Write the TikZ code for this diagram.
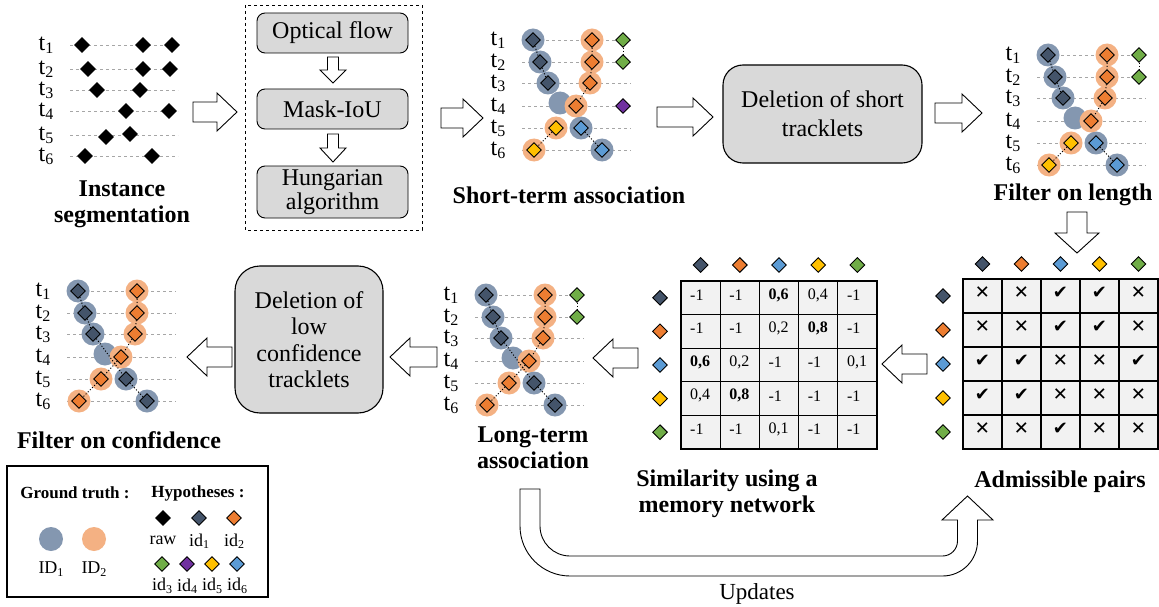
\documentclass[tikz,border=0pt]{standalone}
\usepackage{fontspec}
\setmainfont{Liberation Serif}
\newfontfamily\dejavu{DejaVu Sans}
\usetikzlibrary{shapes.geometric}
\definecolor{gtblue}{HTML}{8497B0}
\definecolor{gtorange}{HTML}{F4B183}
\definecolor{cdark}{HTML}{44546A}
\definecolor{corange}{HTML}{ED7D31}
\definecolor{cblue}{HTML}{5B9BD5}
\definecolor{cyellow}{HTML}{FFC000}
\definecolor{cgreen}{HTML}{70AD47}
\definecolor{cpurple}{HTML}{7030A0}
\definecolor{boxgray}{HTML}{D9D9D9}
\definecolor{cellgray}{HTML}{F2F2F2}
\definecolor{dashgray}{HTML}{A6A6A6}
\tikzset{
  dia/.style={diamond, draw=black, line width=0.9pt, fill=#1, inner sep=0pt, minimum width=15pt, minimum height=15pt},
  gt/.style={circle, fill=#1, inner sep=0pt, minimum size=23pt},
  hl/.style={draw=dashgray, dash pattern=on 3pt off 3pt, line width=0.8pt},
  trk/.style={dotted, line width=1pt},
  blk/.style={draw=black, fill=white, line width=0.9pt, line join=miter},
  procbox/.style={draw, rounded corners=8pt, fill=boxgray, line width=0.9pt, inner sep=0pt, align=center, font=\fontsize{24}{24}\selectfont},
  tlab/.style={inner sep=0pt, font=\fontsize{24}{24}\selectfont},
  captxt/.style={inner sep=0pt, align=center, font=\bfseries\fontsize{24}{26}\selectfont},
  cellbox/.style={draw, fill=cellgray, line width=1.2pt, inner sep=0pt},
  simval/.style={anchor=west, inner sep=0pt, font=\fontsize{16}{16}\selectfont},
  admval/.style={inner sep=0pt, font=\dejavu\bfseries\fontsize{18}{18}\selectfont},
  legtxt/.style={inner sep=0pt, font=\fontsize{18}{18}\selectfont},
}
\newcommand\lowsub[2]{\raisebox{-0.3ex}{\fontsize{#1}{#1}\selectfont #2}}
\newcommand\rarrow[3]{\draw[blk] (#1,{#3-10}) -- ({#2-20},{#3-10}) -- ({#2-20},{#3-19}) -- (#2,#3) -- ({#2-20},{#3+19}) -- ({#2-20},{#3+10}) -- (#1,{#3+10}) -- cycle;}
\newcommand\larrow[3]{\draw[blk] (#1,{#3-10}) -- ({#2+20},{#3-10}) -- ({#2+20},{#3-19}) -- (#2,#3) -- ({#2+20},{#3+19}) -- ({#2+20},{#3+10}) -- (#1,{#3+10}) -- cycle;}
% x, y top, y tip, shaft half, head half, head length
\newcommand\darrow[6]{\draw[blk] ({#1-#4},#2) -- ({#1-#4},{#3-#6}) -- ({#1-#5},{#3-#6}) -- (#1,#3) -- ({#1+#5},{#3-#6}) -- ({#1+#4},{#3-#6}) -- ({#1+#4},#2) -- cycle;}
\newcommand\trackbase[1]{%
  \foreach \i/\yy in {1/0,2/22,3/43,4/66,5/88,6/110}{%
    \draw[hl] (-11,\yy) -- (98,\yy);
    \node[tlab] (#1t\i) at (-35,\yy) {t\lowsub{16}{\i}};
  }
  \foreach \i/\xx/\yy in {1/0/0,2/7/22,3/15/43,4/27/63,5/48/88,6/69/110}{\node[gt=gtblue] (#1a\i) at (\xx,\yy) {};}
  \foreach \i/\xx/\yy in {1/59/0,2/59/22,3/57/43,4/43/66,5/23/88,6/1/110}{\node[gt=gtorange] (#1b\i) at (\xx,\yy) {};}
}
\newcommand\simcell[3]{\node[cellbox, minimum width=39.2pt, minimum height=33.6pt] (s#1#2) at ({681+39.2*(#2-0.5)},{281+33.6*(#1-0.5)}) {};
  \node[simval] (sv#1#2) at ({681+39.2*(#2-1)+9},{281+33.6*(#1-1)+14}) {#3};}
\newcommand\simrow[6]{\simcell{#1}{1}{#2}\simcell{#1}{2}{#3}\simcell{#1}{3}{#4}\simcell{#1}{4}{#5}\simcell{#1}{5}{#6}}
\newcommand\admcell[3]{\node[cellbox, minimum width=39pt, minimum height=34pt] (a#1#2) at ({963+39*(#2-0.5)},{279+34*(#1-0.5)}) {};
  \node[admval] (av#1#2) at ({963+39*(#2-0.5)},{279+34*(#1-0.5)-3}) {#3};}
\newcommand\admrow[6]{\admcell{#1}{1}{#2}\admcell{#1}{2}{#3}\admcell{#1}{3}{#4}\admcell{#1}{4}{#5}\admcell{#1}{5}{#6}}
\newcommand\CX{✕}
\newcommand\CK{✔}
\begin{document}
\begin{tikzpicture}[x=1pt,y=-1pt]
\useasboundingbox (0,0) rectangle (1159,607);
\fill[white] (0,0) rectangle (1159,607);

% ---------- Panel 1: instance segmentation
\foreach \i/\yy in {1/45,2/69,3/90,4/111,5/135,6/156}{
  \draw[hl] (70,\yy) -- (178,\yy);
  \node[tlab] (rt\i) at (46,\yy) {t\lowsub{16}{\i}};
}
\foreach \n/\xx/\yy in {r1/82/45,r2/143/45,r3/172/45,r4/88/69,r5/143/69,r6/170/69,r7/97/90,r8/140/90,r9/126/111,r10/169/111,r11/106/137,r12/130/134,r13/85/156,r14/152/156}{
  \node[dia=black] (\n) at (\xx,\yy) {};
}
\node[captxt] (capIS) at (122,204) {Instance\\segmentation};
\rarrow{193}{237}{112}

% ---------- dashed box
\draw[dashed, line width=0.9pt] (245,5) rectangle (422,230);
\node[procbox, minimum width=151pt, minimum height=40pt] (of) at (332.5,33) {Optical flow};
\node[procbox, minimum width=151pt, minimum height=40pt] (mi) at (332.5,109) {Mask-IoU};
\node[procbox, minimum width=151pt, minimum height=52pt] (ha) at (332.5,192) {Hungarian\\algorithm};
\darrow{333}{57}{83}{5.5}{13}{13}
\darrow{333}{134}{162}{5.5}{13}{14}
\rarrow{441}{483}{118}

% ---------- Panel 2: short-term association
\begin{scope}[shift={(533,40)}]
\trackbase{p}
\node[dia=cdark] (pd1) at (pa1) {};
\node[dia=cdark] (pd2) at (pa2) {};
\node[dia=cdark] (pd3) at (pa3) {};
\node[dia=corange] (po1) at (pb1) {};
\node[dia=corange] (po2) at (pb2) {};
\node[dia=corange] (po3) at (pb3) {};
\node[dia=corange] (po4) at (pb4) {};
\node[dia=cyellow] (py5) at (pb5) {};
\node[dia=cyellow] (py6) at (pb6) {};
\node[dia=cblue] (pl5) at (pa5) {};
\node[dia=cblue] (pl6) at (pa6) {};
\node[dia=cgreen] (pg1) at (90,0) {};
\node[dia=cgreen] (pg2) at (90,22) {};
\node[dia=cpurple] (pp4) at (90,66) {};
\draw[trk] (pd1) -- (pd2) -- (pd3);
\draw[trk] (po1) -- (po2) -- (po3) -- (po4);
\draw[trk] (py5) -- (py6);
\draw[trk] (pl5) -- (pl6);
\draw[trk] (pg1) -- (pg2);
\end{scope}
\node[captxt] (capST) at (569,195) {Short-term association};
\rarrow{657}{713}{117}

\node[procbox, rounded corners=20pt, minimum width=199pt, minimum height=98pt, line width=1.1pt, font=\fontsize{24}{29}\selectfont] (del1) at (822.5,114) {Deletion of short\\tracklets};
\rarrow{935}{982}{113}

% ---------- Panel 3: filter on length
\begin{scope}[shift={(1048,55)}]
\trackbase{q}
\node[dia=cdark] (qd1) at (qa1) {};
\node[dia=cdark] (qd2) at (qa2) {};
\node[dia=cdark] (qd3) at (qa3) {};
\node[dia=corange] (qo1) at (qb1) {};
\node[dia=corange] (qo2) at (qb2) {};
\node[dia=corange] (qo3) at (qb3) {};
\node[dia=corange] (qo4) at (qb4) {};
\node[dia=cyellow] (qy5) at (qb5) {};
\node[dia=cyellow] (qy6) at (qb6) {};
\node[dia=cblue] (ql5) at (qa5) {};
\node[dia=cblue] (ql6) at (qa6) {};
\node[dia=cgreen] (qg1) at (91,0) {};
\node[dia=cgreen] (qg2) at (91,22) {};
\draw[trk] (qd1) -- (qd2) -- (qd3);
\draw[trk] (qo1) -- (qo2) -- (qo3) -- (qo4);
\draw[trk] (qy5) -- (qy6);
\draw[trk] (ql5) -- (ql6);
\draw[trk] (qg1) -- (qg2);
\end{scope}
\node[captxt] (capFL) at (1073,195) {Filter on length};
\darrow{1077}{212}{253}{10}{22}{20}

% ---------- Admissible pairs
\foreach \c/\col in {1/cdark,2/corange,3/cblue,4/cyellow,5/cgreen}{
  \node[dia=\col] (ah\c) at ({963+39*(\c-0.5)},264) {};
  \node[dia=\col] (ar\c) at (943,{279+34*(\c-0.5)}) {};
}
\admrow{1}{\CX}{\CX}{\CK}{\CK}{\CX}
\admrow{2}{\CX}{\CX}{\CK}{\CK}{\CX}
\admrow{3}{\CK}{\CK}{\CX}{\CX}{\CK}
\admrow{4}{\CK}{\CK}{\CX}{\CX}{\CX}
\admrow{5}{\CX}{\CX}{\CK}{\CX}{\CX}
\node[captxt] (capAP) at (1060,482) {Admissible pairs};
\larrow{927}{882}{364}

% ---------- Similarity
\foreach \c/\col in {1/cdark,2/corange,3/cblue,4/cyellow,5/cgreen}{
  \node[dia=\col] (sh\c) at ({681+39.2*(\c-0.5)},265) {};
  \node[dia=\col] (sr\c) at (660,{281+33.6*(\c-0.5)}) {};
}
\simrow{1}{-1}{-1}{\textbf{0,6}}{0,4}{-1}
\simrow{2}{-1}{-1}{0,2}{\textbf{0,8}}{-1}
\simrow{3}{\textbf{0,6}}{0,2}{-1}{-1}{0,1}
\simrow{4}{0,4}{\textbf{0,8}}{-1}{-1}{-1}
\simrow{5}{-1}{-1}{0,1}{-1}{-1}
\node[captxt] (capSM) at (727,494) {Similarity using a\\memory network};
\larrow{638}{593}{358}

% ---------- Long-term association
\begin{scope}[shift={(486,295)}]
\trackbase{l}
\node[dia=cdark] (ld1) at (la1) {};
\node[dia=cdark] (ld2) at (la2) {};
\node[dia=cdark] (ld3) at (la3) {};
\node[dia=cdark] (ld5) at (la5) {};
\node[dia=cdark] (ld6) at (la6) {};
\node[dia=corange] (lo1) at (lb1) {};
\node[dia=corange] (lo2) at (lb2) {};
\node[dia=corange] (lo3) at (lb3) {};
\node[dia=corange] (lo4) at (lb4) {};
\node[dia=corange] (lo5) at (lb5) {};
\node[dia=corange] (lo6) at (lb6) {};
\node[dia=cgreen] (lg1) at (91,0) {};
\node[dia=cgreen] (lg2) at (91,22) {};
\draw[trk] (ld1) -- (ld2) -- (ld3) -- (ld5) -- (ld6);
\draw[trk] (lo1) -- (lo2) -- (lo3) -- (lo4) -- (lo5) -- (lo6);
\draw[trk] (lg1) -- (lg2);
\end{scope}
\node[captxt] (capLT) at (533,448) {Long-term\\association};
\larrow{437}{390}{357}

\node[procbox, rounded corners=25pt, minimum width=148pt, minimum height=147pt, line width=1.1pt, font=\fontsize{24}{26.5}\selectfont] (del2) at (309,339.5) {Deletion of\\low\\confidence\\tracklets};
\larrow{232}{187}{357}

% ---------- Filter on confidence
\begin{scope}[shift={(78,291)}]
\trackbase{f}
\node[dia=cdark] (fd1) at (fa1) {};
\node[dia=cdark] (fd2) at (fa2) {};
\node[dia=cdark] (fd3) at (fa3) {};
\node[dia=cdark] (fd5) at (fa5) {};
\node[dia=cdark] (fd6) at (fa6) {};
\node[dia=corange] (fo1) at (fb1) {};
\node[dia=corange] (fo2) at (fb2) {};
\node[dia=corange] (fo3) at (fb3) {};
\node[dia=corange] (fo4) at (fb4) {};
\node[dia=corange] (fo5) at (fb5) {};
\node[dia=corange] (fo6) at (fb6) {};
\draw[trk] (fd1) -- (fd2) -- (fd3) -- (fd5) -- (fd6);
\draw[trk] (fo1) -- (fo2) -- (fo3) -- (fo4) -- (fo5) -- (fo6);
\end{scope}
\node[captxt] (capFC) at (119,440) {Filter on confidence};

% ---------- Legend
\draw[line width=2.5pt] (7,466) rectangle (268,597);
\node[inner sep=0pt, font=\bfseries\fontsize{17}{17}\selectfont] (lgGT) at (75,493) {Ground truth :};
\node[inner sep=0pt, font=\bfseries\fontsize{17}{17}\selectfont] (lgHY) at (198,493) {Hypotheses :};
\node[gt=gtblue, minimum size=24pt] (lgc1) at (51,539) {};
\node[gt=gtorange, minimum size=24pt] (lgc2) at (94,539) {};
\node[legtxt] (lgI1) at (51,569) {ID\lowsub{12}{1}};
\node[legtxt] (lgI2) at (94,569) {ID\lowsub{12}{2}};
\node[dia=black] (lh0) at (163,518) {};
\node[dia=cdark] (lh1) at (199,518) {};
\node[dia=corange] (lh2) at (234,518) {};
\node[legtxt] (lt0) at (163,540) {raw};
\node[legtxt] (lt1) at (199,541) {id\lowsub{12}{1}};
\node[legtxt] (lt2) at (234,541) {id\lowsub{12}{2}};
\node[dia=cgreen] (lh3) at (162,564) {};
\node[dia=cpurple] (lh4) at (187,564) {};
\node[dia=cyellow] (lh5) at (212,564) {};
\node[dia=cblue] (lh6) at (237,564) {};
\node[legtxt] (lt3) at (162,586) {id\lowsub{12}{3}};
\node[legtxt] (lt4) at (187,586) {id\lowsub{12}{4}};
\node[legtxt] (lt5) at (212,586) {id\lowsub{12}{5}};
\node[legtxt] (lt6) at (237,586) {id\lowsub{12}{6}};

% ---------- Updates arrow
\draw[blk] (520,489) -- (520,526) arc[start angle=180, end angle=90, radius=50]
  -- (942.5,576) arc[start angle=90, end angle=0, radius=35]
  -- (977.5,520) -- (993,520) -- (967.5,496) -- (942,520) -- (957.5,520)
  -- (957.5,541) arc[start angle=0, end angle=90, radius=15]
  -- (570,556) arc[start angle=90, end angle=180, radius=30]
  -- (540,489) -- cycle;
\node[inner sep=0pt, font=\fontsize{23}{23}\selectfont] (upd) at (757,594) {Updates};
\end{tikzpicture}
\end{document}
